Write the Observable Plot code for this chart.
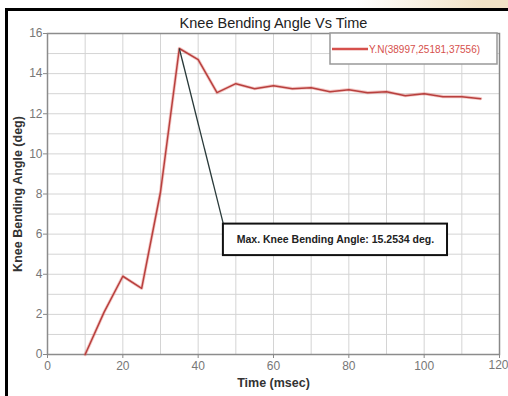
<!DOCTYPE html>
<html>
<head>
<meta charset="utf-8">
<script src="https://cdn.jsdelivr.net/npm/d3@7"></script>
<script src="https://cdn.jsdelivr.net/npm/@observablehq/plot@0.6"></script>
<style>
  html, body { margin: 0; padding: 0; background: #fff; }
  #wrap { position: relative; width: 508px; height: 396px; overflow: hidden;
          background: linear-gradient(to right, #fff 0%, #fff 70%, #f1e2c6 95%); }
  #sheet { position: absolute; left: 5px; top: 8px; width: 510px; height: 400px;
           background: #fff; border-left: 3px solid #000; border-top: 3px solid #000; }
  #chart { position: absolute; left: 0; top: 0; }
</style>
</head>
<body>
<div id="wrap"><div id="sheet"></div><div id="chart"></div></div>
<script>
// Data
const time = [10, 15, 20, 25, 30, 35, 40, 45, 50, 55, 60, 65, 70, 75, 80, 85, 90, 95, 100, 105, 110, 115];
const angle = [0, 2.1, 3.9, 3.3, 8.1, 15.2534, 14.7, 13.05, 13.5, 13.25, 13.4, 13.25, 13.3, 13.1, 13.2, 13.05, 13.1, 12.9, 13.0, 12.85, 12.85, 12.75];
const xTicks = [0, 20, 40, 60, 80, 100, 120];
const yTicks = [0, 2, 4, 6, 8, 10, 12, 14, 16];
const titleText = "Knee Bending Angle Vs Time";
const xLabel = "Time (msec)";
const yLabel = "Knee Bending Angle (deg)";
const seriesName = "Y.N(38997,25181,37556)";
const maxLabel = "Max. Knee Bending Angle: 15.2534 deg.";

const data = time.map((t, i) => ({t, a: angle[i]}));
const peak = data.reduce((m, d) => d.a > m.a ? d : m, data[0]);
// annotation box (data units)
const box = {x1: 46.7, x2: 106.2, y1: 4.93, y2: 6.5};

const narrow = "'Liberation Sans Narrow', 'Liberation Sans', Arial, sans-serif";
const lastTick = xTicks[xTicks.length - 1];

const chart = Plot.plot({
  width: 508,
  height: 396,
  marginLeft: 47,
  marginRight: 9,
  marginTop: 33,
  marginBottom: 42,
  style: {background: "transparent", fontFamily: narrow, overflow: "visible"},
  x: {domain: [0, 120]},
  y: {domain: [0, 16]},
  marks: [
    Plot.gridY(d3.range(0, 17, 1), {stroke: "#d4d4d4", strokeOpacity: 1}),
    Plot.gridX(d3.range(0, 121, 10), {stroke: "#d4d4d4", strokeOpacity: 1}),
    Plot.frame({stroke: "#8c8c8c", strokeWidth: 1.5}),
    Plot.axisX(xTicks.slice(0, -1), {tickSize: 4, tickPadding: 3, fontSize: 12, fill: "#777", stroke: "#888", label: null}),
    Plot.tickX([lastTick], {y1: 0, y2: 0, stroke: "#888", insetBottom: -4}),
    Plot.text([lastTick], {x: d => d, frameAnchor: "bottom", textAnchor: "end", dx: 9, dy: 14, fontSize: 12, fill: "#777"}),
    Plot.axisY(yTicks, {tickSize: 4, tickPadding: 1, fontSize: 12, fill: "#777", stroke: "#888", label: null}),
    Plot.line(data, {x: "t", y: "a", stroke: "#e0605c", strokeWidth: 3.2, strokeOpacity: 0.35}),
    Plot.line(data, {x: "t", y: "a", stroke: "#b8403e", strokeWidth: 1.5}),
    // annotation leader line
    Plot.link([peak], {x1: "t", y1: "a", x2: () => box.x1, y2: () => box.y2, stroke: "#2a3a3a", strokeWidth: 1.3}),
    Plot.rect([box], {x1: "x1", x2: "x2", y1: "y1", y2: "y2", fill: "#fff", stroke: "#111", strokeWidth: 2}),
    Plot.text([maxLabel], {x: (box.x1 + box.x2) / 2, y: (box.y1 + box.y2) / 2, fontSize: 10.5, fontWeight: "bold", fill: "#222", fontFamily: narrow}),
    // title
    Plot.text([titleText], {frameAnchor: "top", dy: -16, fontSize: 14.5, fill: "#222", fontFamily: "'Liberation Sans', Arial, sans-serif"}),
    // axis labels
    Plot.text([xLabel], {frameAnchor: "bottom", dy: 32, fontSize: 12.5, fontWeight: "bold", fill: "#333", fontFamily: narrow}),
    Plot.text([yLabel], {frameAnchor: "left", textAnchor: "middle", dx: -30, rotate: -90, fontSize: 12.5, fontWeight: "bold", fill: "#333", fontFamily: narrow})
  ]
});
document.getElementById("chart").appendChild(chart);

// Legend box drawn inside the SVG with d3
const svg = d3.select(chart);
const lg = svg.append("g");
lg.append("rect").attr("x", 330).attr("y", 33).attr("width", 167).attr("height", 31)
  .attr("fill", "#fff").attr("stroke", "#999").attr("stroke-width", 1.5);
lg.append("line").attr("x1", 332).attr("x2", 368).attr("y1", 49).attr("y2", 49)
  .attr("stroke", "#d6504c").attr("stroke-width", 2.5);
lg.append("text").attr("x", 369).attr("y", 49).attr("dy", "0.35em").attr("text-anchor", "start")
  .attr("font-size", 10).attr("font-family", narrow).attr("fill", "#d6504c").text(seriesName);
</script>
</body>
</html>
